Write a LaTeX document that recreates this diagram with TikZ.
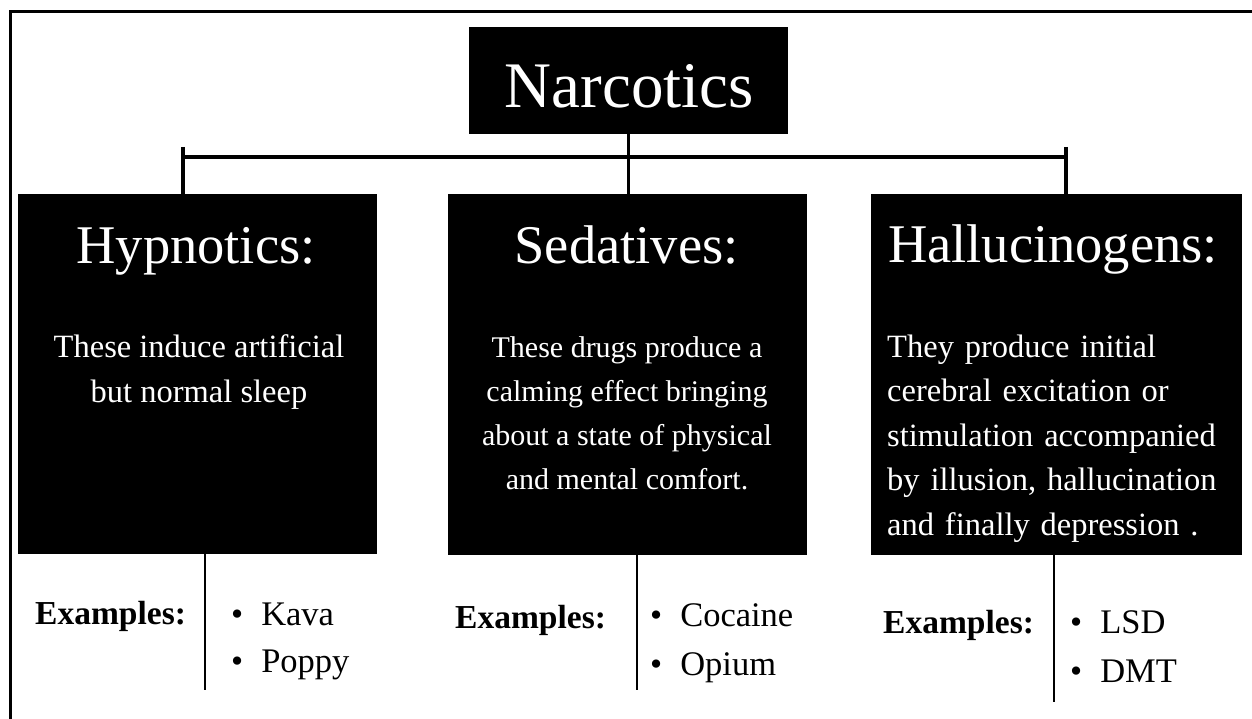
\documentclass[tikz,border=0pt]{standalone}
\usepackage{fontspec}
\setmainfont{Liberation Serif}
\usetikzlibrary{positioning}

\begin{document}
\begin{tikzpicture}
  [x=1pt,y=-1pt,
   box/.style={rectangle,fill=black,inner sep=0pt},
   head/.style={text=white,inner sep=0pt,anchor=base,font=\fontsize{54.5}{60}\selectfont},
   body/.style={text=white,inner sep=0pt,anchor=base,align=center},
   link/.style={line width=3.5pt},
   stem/.style={line width=2.2pt},
   exlabel/.style={inner sep=0pt,anchor=base west,font=\fontsize{33.5}{40}\selectfont\bfseries},
   item/.style={inner sep=0pt,anchor=base west,font=\fontsize{34.5}{40}\selectfont}]
  \useasboundingbox (0,0) rectangle (1252,719);
  \clip (0,0) rectangle (1252,719);
  \draw[line width=3pt] (10,12) rectangle (1262,730);

  \node[box,minimum width=319pt,minimum height=107pt] (narc) at (628.5,80.5) {};
  \node[box,minimum width=359pt,minimum height=360pt] (hyp) at (197.5,374) {};
  \node[box,minimum width=359pt,minimum height=361pt] (sed) at (627.5,374.5) {};
  \node[box,minimum width=371pt,minimum height=361pt] (hal) at (1056.5,374.5) {};

  \node[head,font=\fontsize{65}{70}\selectfont] (narcT) at (629.5,108) {Narcotics};
  \node[head] (hypT) at (196,263) {Hypnotics:};
  \node[head] (sedT) at (626.5,264) {Sedatives:};
  \node[head] (halT) at (1053,262) {Hallucinogens:};

  % base of these is the last line
  \node[body,font=\fontsize{32.5}{45}\selectfont] (hypD) at (199,402)
    {These induce artificial\\but normal sleep};
  \node[body,font=\fontsize{30}{44}\selectfont] (sedD) at (627,489)
    {These drugs produce a\\calming effect bringing\\about a state of physical\\and mental comfort.};
  \node[body,anchor=base west,align=left,text width=341pt,
        font=\fontsize{32.5}{44.5}\selectfont] (halD) at (887,357)
    {\makebox[341pt][s]{They produce initial}\\
     \makebox[341pt][s]{cerebral excitation or}\\
     \makebox[341pt][s]{stimulation accompanied}\\
     \makebox[341pt][s]{by illusion, hallucination}\\
     and finally depression .};

  % connectors
  \coordinate (barL) at (183,157);
  \coordinate (barR) at (1066,157);
  \draw[link] (barL) -- (barR);
  \draw[link] ([yshift=10pt]barL) -- (barL |- hyp.north);
  \draw[link] ([yshift=10pt]barR) -- (barR |- hal.north);
  \draw[link] (narc.south) -- (narc.south |- sed.north);

  \coordinate (hypEnd) at (205,690);
  \coordinate (sedEnd) at (637,690);
  \coordinate (halEnd) at (1054,702);
  \foreach \from/\to in {hyp/hypEnd,sed/sedEnd,hal/halEnd}
    \draw[stem] (\from.south -| \to) -- (\to);

  \node[exlabel] (hypEx) at (35,624) {Examples:};
  \node[exlabel] (sedEx) at (455,628) {Examples:};
  \node[exlabel] (halEx) at (883,633) {Examples:};

  \node[item] (hypA) at (231,625) {•\hspace{18pt}Kava};
  \node[item] (hypB) at (231,672) {•\hspace{18pt}Poppy};
  \node[item] (sedA) at (650,626) {•\hspace{18pt}Cocaine};
  \node[item] (sedB) at (650,675) {•\hspace{18pt}Opium};
  \node[item] (halA) at (1070,633) {•\hspace{18pt}LSD};
  \node[item] (halB) at (1070,682) {•\hspace{18pt}DMT};
\end{tikzpicture}
\end{document}
